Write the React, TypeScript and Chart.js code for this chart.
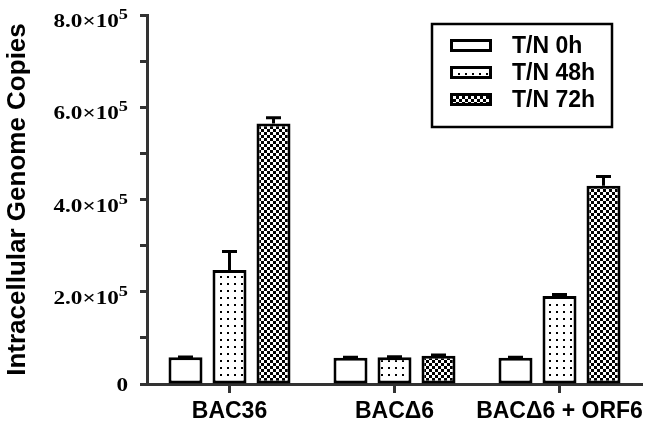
import React, { useEffect, useRef } from 'react';
import { Chart, registerables } from 'chart.js';
Chart.register(...registerables);

const categories = ['BAC36', 'BACΔ6', 'BACΔ6 + ORF6'];
const seriesLabels = ['T/N 0h', 'T/N 48h', 'T/N 72h'];
const values0h = [58000, 57000, 57000];
const values48h = [247000, 58000, 191000];
const values72h = [565000, 61000, 430000];
const errors0h = [800, 1200, 1200];
const errors48h = [40000, 1200, 3000];
const errors72h = [12000, 2000, 20000];
const yMax = 800000;
const yStep = 100000;
const yLabelStep = 200000;
const yTitle = 'Intracellular Genome Copies';

function makeDots(): CanvasPattern | string {
  const c = document.createElement('canvas');
  c.width = 7; c.height = 7;
  const g = c.getContext('2d');
  if (!g) return '#fff';
  g.fillStyle = '#fff'; g.fillRect(0, 0, 7, 7);
  g.fillStyle = '#000'; g.fillRect(3, 3, 2, 2);
  return g.createPattern(c, 'repeat') || '#fff';
}
function makeChecker(): CanvasPattern | string {
  const c = document.createElement('canvas');
  c.width = 6; c.height = 6;
  const g = c.getContext('2d');
  if (!g) return '#000';
  g.fillStyle = '#fff'; g.fillRect(0, 0, 6, 6);
  g.fillStyle = '#000'; g.fillRect(0, 0, 3, 3); g.fillRect(3, 3, 3, 3);
  return g.createPattern(c, 'repeat') || '#000';
}

const errorBarPlugin = {
  id: 'errorBars',
  afterDatasetsDraw(chart: any) {
    const ctx = chart.ctx;
    const y = chart.scales.y;
    ctx.save();
    ctx.strokeStyle = '#000';
    ctx.lineWidth = 3;
    chart.data.datasets.forEach((ds: any, i: number) => {
      const meta = chart.getDatasetMeta(i);
      meta.data.forEach((bar: any, j: number) => {
        const v = ds.data[j];
        const e = ds.errors[j];
        const x = bar.x;
        const yb = y.getPixelForValue(v);
        const yt = y.getPixelForValue(v + e);
        ctx.beginPath();
        ctx.moveTo(x, yb);
        ctx.lineTo(x, yt);
        ctx.moveTo(x - 7.5, yt);
        ctx.lineTo(x + 7.5, yt);
        ctx.stroke();
      });
    });
    ctx.restore();
  },
};

const yLabelPlugin = {
  id: 'yLabels',
  afterDraw(chart: any) {
    const ctx = chart.ctx;
    const y = chart.scales.y;
    const right = 128;
    ctx.save();
    ctx.fillStyle = '#000';
    y.ticks.forEach((t: any) => {
      const v = t.value;
      if (v % yLabelStep !== 0) return;
      const py = y.getPixelForValue(v);
      ctx.save();
      ctx.translate(right, py);
      ctx.scale(1.22, 1);
      if (v === 0) {
        ctx.font = 'bold 19px "Liberation Serif"';
        ctx.textAlign = 'right';
        ctx.textBaseline = 'alphabetic';
        ctx.fillText('0', 0, 6.5);
      } else {
        const exp = Math.floor(Math.log10(v));
        const mant = (v / Math.pow(10, exp)).toFixed(1);
        ctx.font = 'bold 15px "Liberation Serif"';
        const sup = String(exp);
        const sw = ctx.measureText(sup).width;
        ctx.textAlign = 'right';
        ctx.textBaseline = 'alphabetic';
        ctx.fillText(sup, 0, 4);
        ctx.font = 'bold 19px "Liberation Serif"';
        ctx.fillText(mant + '×10', -sw, 12);
      }
      ctx.restore();
    });
    ctx.restore();
  },
};

const legendPlugin = {
  id: 'boxLegend',
  afterDraw(chart: any) {
    const ctx = chart.ctx;
    ctx.save();
    ctx.strokeStyle = '#000';
    ctx.lineWidth = 2.5;
    ctx.strokeRect(432, 24, 180, 103);
    chart.data.datasets.forEach((ds: any, i: number) => {
      const top = 39 + i * 27;
      ctx.fillStyle = ds.backgroundColor;
      ctx.fillRect(450, top, 42, 13);
      ctx.lineWidth = 3;
      ctx.strokeRect(451.5, top + 1.5, 39, 10);
      ctx.fillStyle = '#000';
      ctx.font = 'bold 23px "Liberation Sans"';
      ctx.textAlign = 'left';
      ctx.textBaseline = 'middle';
      ctx.fillText(ds.label, 512, top + 7.5);
    });
    ctx.restore();
  },
};

export default function App() {
  const ref = useRef<HTMLCanvasElement | null>(null);
  useEffect(() => {
    document.body.style.margin = '0';
    const canvas = ref.current;
    if (!canvas) return;
    const dots = makeDots();
    const checker = makeChecker();
    const common = {
      borderColor: '#000',
      borderWidth: 3,
      borderSkipped: false,
      categoryPercentage: 0.8,
      barPercentage: 0.773,
    };
    const chart = new Chart(canvas, {
      type: 'bar',
      data: {
        labels: categories,
        datasets: [
          { ...common, label: seriesLabels[0], data: values0h, backgroundColor: '#fff', errors: errors0h } as any,
          { ...common, label: seriesLabels[1], data: values48h, backgroundColor: dots, errors: errors48h } as any,
          { ...common, label: seriesLabels[2], data: values72h, backgroundColor: checker, errors: errors72h } as any,
        ],
      },
      options: {
        responsive: false,
        animation: false,
        devicePixelRatio: 1,
        layout: { padding: { top: 15, right: 22, left: 0, bottom: 0 } },
        plugins: { legend: { display: false }, tooltip: { enabled: false } },
        scales: {
          x: {
            grid: { display: true, drawOnChartArea: false, offset: false, tickLength: 9, tickWidth: 3, tickColor: '#333' },
            border: { display: true, width: 3, color: '#333' },
            ticks: {
              font: { family: 'Liberation Sans', weight: 'bold', size: 23 },
              color: '#000',
              padding: 5,
              maxRotation: 0,
              autoSkip: false,
            },
            afterFit: (s: any) => { s.height = 51; },
          },
          y: {
            min: 0,
            max: yMax,
            ticks: { stepSize: yStep, callback: () => '', padding: 0 },
            grid: { display: true, drawOnChartArea: false, tickLength: 7, tickWidth: 3, tickColor: '#333' },
            border: { display: true, width: 3, color: '#333' },
            title: {
              display: true,
              text: yTitle,
              color: '#000',
              font: { family: 'Liberation Sans', weight: 'bold', size: 26 },
              padding: { top: 2, bottom: 0 },
            },
            afterFit: (s: any) => { s.width = 147; },
          },
        },
      } as any,
      plugins: [errorBarPlugin, yLabelPlugin, legendPlugin],
    });
    return () => chart.destroy();
  }, []);
  return (
    <div style={{ position: 'fixed', left: 0, top: 0, width: 664, height: 435, background: '#fff' }}>
      <canvas ref={ref} width={664} height={435} />
    </div>
  );
}
